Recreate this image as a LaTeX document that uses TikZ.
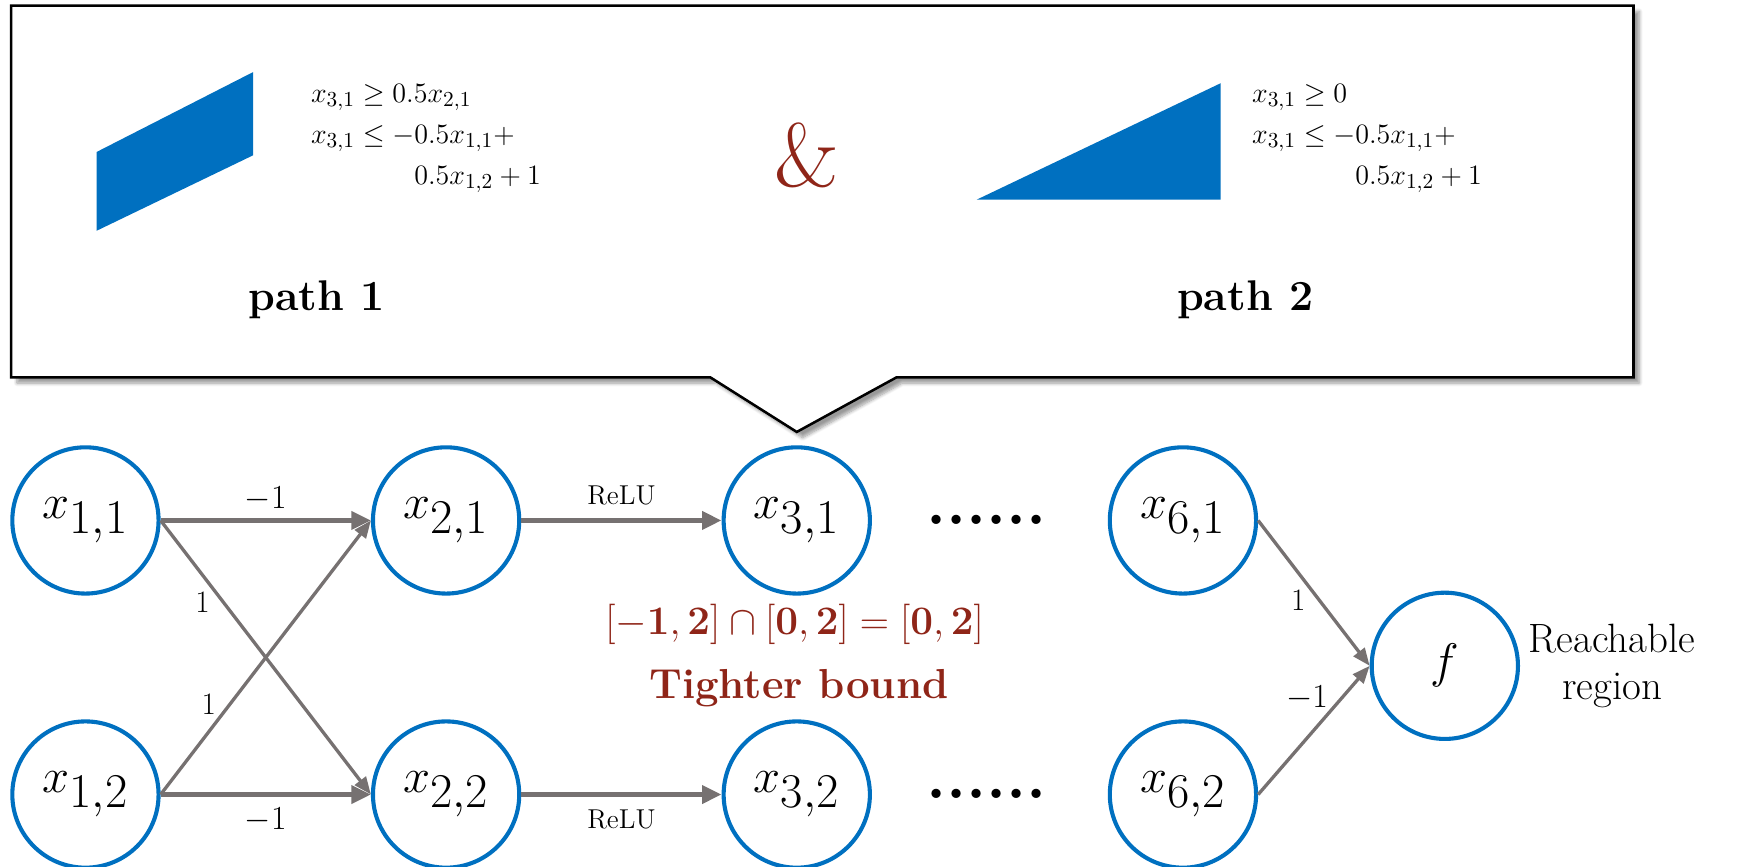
\documentclass[tikz,border=0pt]{standalone}
\usepackage{amsmath}
\usepackage{amssymb}
\usetikzlibrary{arrows.meta, positioning, calc, shadows.blur}

\definecolor{nodeblue}{RGB}{0,112,192}
\definecolor{edgegray}{RGB}{118,113,113}
\definecolor{boundred}{RGB}{143,37,24}

\begin{document}
\begin{tikzpicture}[x=0.2mm, y=0.2mm,
    neuron/.style={circle, draw=nodeblue, line width=2.1pt, minimum size=75pt,
        inner sep=0pt, font=\fontsize{34}{36}\selectfont},
    wire/.style={edgegray, line width=2.6pt, -{Triangle[length=10pt,width=9pt]}},
    cross/.style={edgegray, line width=1.7pt, -{Triangle[length=9pt,width=7pt]}},
    weight/.style={text=black, font=\fontsize{16}{18}\selectfont},
    relu/.style={text=black, font=\fontsize{14}{16}\selectfont},
    cons/.style={anchor=north west, inner sep=0pt, font=\fontsize{15}{18}\selectfont},
    pathlabel/.style={font=\fontsize{22}{26}\selectfont\bfseries},
    dots/.style={anchor=base, font=\fontsize{33}{36}\selectfont\bfseries}]
    \useasboundingbox (0,0) rectangle (1568,-781);

    % network
    \node[neuron] (x11) at (77,-469) {$x_{1,1}$};
    \node[neuron] (x12) at (77,-716) {$x_{1,2}$};
    \node[neuron] (x21) at (402,-469) {$x_{2,1}$};
    \node[neuron] (x22) at (402,-716) {$x_{2,2}$};
    \node[neuron] (x31) at (718,-469) {$x_{3,1}$};
    \node[neuron] (x32) at (718,-716) {$x_{3,2}$};
    \node[neuron] (x61) at (1066,-469) {$x_{6,1}$};
    \node[neuron] (x62) at (1066,-716) {$x_{6,2}$};
    \node[neuron] (f) at (1302,-600) {$f$};

    \node[dots] (d1) at (889,-473) {......};
    \node[dots] (d2) at (889,-720) {......};

    \node[right=1pt of f, align=center, font=\fontsize{21}{24}\selectfont] (reach)
        {Reachable\\region};

    \draw (x11) edge[wire] node[weight, above] {$-1$} (x21)
          (x12) edge[wire] node[weight, below=2pt] {$-1$} (x22)
          (x11.east) edge[cross] node[weight, pos=0.3, left=3pt] {1} (x22.west)
          (x12.east) edge[cross] node[weight, pos=0.33, left=3pt] {1} (x21.west)
          (x21) edge[wire] node[relu, above=3pt] {ReLU} (x31)
          (x22) edge[wire] node[relu, below=3pt] {ReLU} (x32)
          (x61.east) edge[cross] node[weight, pos=0.55, left=3pt] {1} (f.west)
          (x62.east) edge[cross] node[weight, pos=0.75, left=3pt] {$-1$} (f.west);

    \node[text=boundred, font=\fontsize{22}{24}\selectfont] (bound) at (716,-563)
        {$[-\mathbf{1},\mathbf{2}]\cap[\mathbf{0},\mathbf{2}]=[\mathbf{0},\mathbf{2}]$};
    \node[text=boundred, font=\fontsize{21.5}{24}\selectfont\bfseries] (tighter) at (720,-620)
        {Tighter bound};

    % callout above x_{3,1}
    \coordinate (tip) at ($(x31.north)+(0,12)$);
    \draw[line width=1.3pt, fill=white,
          blur shadow={shadow xshift=3pt, shadow yshift=-3pt, shadow blur steps=8}]
        (10,-5) -- (1472,-5) -- (1472,-340) -- (808,-340) -- (tip)
        -- (640,-340) -- (10,-340) -- cycle;

    \fill[nodeblue] (87,-137) -- (87,-208) -- (228,-140) -- (228,-65) -- cycle;
    \fill[nodeblue] (880,-180) -- (1100,-180) -- (1100,-75) -- cycle;

    \node[cons] (c1) at (280,-70) {$\begin{aligned}
        x_{3,1} &\geq 0.5x_{2,1}\\
        x_{3,1} &\leq -0.5x_{1,1} +\\
        &\hphantom{{}\leq{}-}0.5x_{1,2}+1
    \end{aligned}$};
    \node[cons] (c2) at (1128,-70) {$\begin{aligned}
        x_{3,1} &\geq 0\\
        x_{3,1} &\leq -0.5x_{1,1} +\\
        &\hphantom{{}\leq{}-}0.5x_{1,2}+1
    \end{aligned}$};

    \node[text=boundred, font=\fontsize{46}{50}\selectfont] (amp) at (727,-140) {\&};

    \node[pathlabel] (p1) at (285,-270) {path 1};
    \node[pathlabel] (p2) at (1122,-270) {path 2};
\end{tikzpicture}
\end{document}
